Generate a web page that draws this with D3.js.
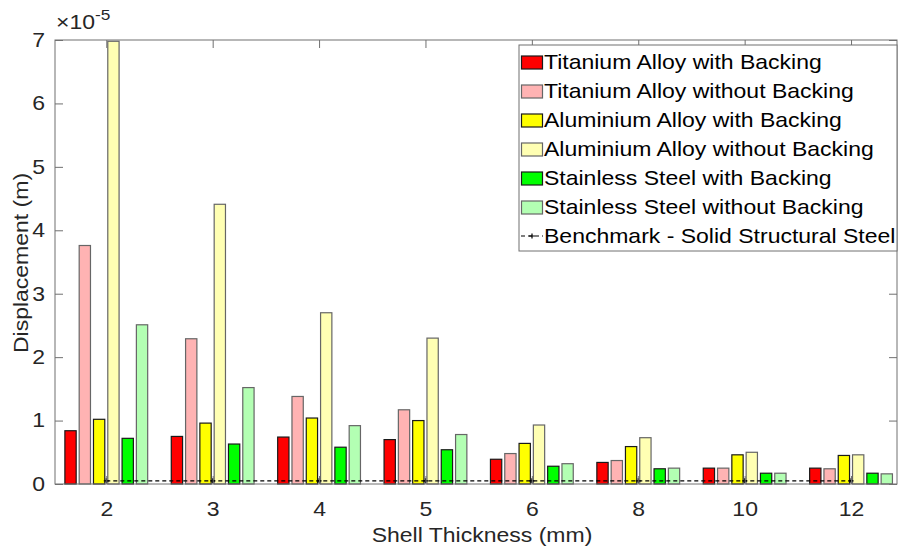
<!DOCTYPE html>
<html>
<head>
<meta charset="utf-8">
<script src="https://cdn.jsdelivr.net/npm/d3@7"></script>
<style>
  html, body { margin: 0; padding: 0; background: #fff; }
  svg { display: block; font-family: "Liberation Sans", Arial, sans-serif; }
</style>
</head>
<body>
<svg id="chart" width="899" height="549"></svg>
<script>
// Shell thickness categories (mm)
const categories = ["2", "3", "4", "5", "6", "8", "10", "12"];

// Displacement values, in units of 1e-5 m
const tiWith       = [0.84, 0.75, 0.74, 0.70, 0.39, 0.34, 0.25, 0.25];
const tiWithout    = [3.76, 2.29, 1.38, 1.17, 0.48, 0.37, 0.25, 0.24];
const alWith       = [1.02, 0.96, 1.04, 1.00, 0.64, 0.59, 0.46, 0.45];
const alWithout    = [6.98, 4.41, 2.70, 2.30, 0.93, 0.73, 0.50, 0.46];
const ssWith       = [0.72, 0.63, 0.58, 0.54, 0.28, 0.24, 0.17, 0.17];
const ssWithout    = [2.51, 1.52, 0.92, 0.78, 0.32, 0.25, 0.17, 0.16];
const benchmark    = [0.05, 0.05, 0.05, 0.05, 0.05, 0.05, 0.05, 0.05];

const seriesNames = [
  "Titanium Alloy with Backing",
  "Titanium Alloy without Backing",
  "Aluminium Alloy with Backing",
  "Aluminium Alloy without Backing",
  "Stainless Steel with Backing",
  "Stainless Steel without Backing"
];
const benchmarkName = "Benchmark - Solid Structural Steel";
const yTicks = [0, 1, 2, 3, 4, 5, 6, 7];

const seriesValues = [tiWith, tiWithout, alWith, alWithout, ssWith, ssWithout];
const fills  = ["#ff0000", "#ffb3b3", "#ffff00", "#ffffb3", "#00ff00", "#b3ffb3"];
const edges  = ["#1a1a1a", "#666666", "#1a1a1a", "#666666", "#1a1a1a", "#666666"];

const svg = d3.select("#chart");
const plotL = 55, plotR = 897, plotT = 40, plotB = 484;
const axisColor = "#707070";
const textColor = "#262626";
const widen = 1.15;

// Text in this figure is set slightly wide; apply a horizontal stretch in place.
function stretch(sel) {
  sel.each(function () {
    const t = d3.select(this);
    const tx = +t.attr("x") || 0, ty = +t.attr("y") || 0;
    const extra = t.attr("data-rot") ? ` rotate(${t.attr("data-rot")})` : "";
    t.attr("x", 0).attr("y", 0)
      .attr("transform", `translate(${tx},${ty})${extra} scale(${widen},1)`);
  });
}

// Category positions (index 1..8), slightly asymmetric limits
const x = d3.scaleLinear().domain([0.518, 8.432]).range([plotL, plotR]);
const y = d3.scaleLinear().domain([0, 7]).range([plotB, plotT]);
// Sub-band for the six bars inside each group (pixel offsets from group centre)
const sub = d3.scaleBand().domain(d3.range(6)).range([-42.9, 42.9])
  .paddingInner(0.21).paddingOuter(0.105);

// Bars
const g = svg.append("g");
seriesValues.forEach((vals, s) => {
  g.selectAll(null).data(vals).enter().append("rect")
    .attr("x", (d, i) => x(i + 1) + sub(s))
    .attr("width", sub.bandwidth())
    .attr("y", d => y(d))
    .attr("height", d => y(0) - y(d))
    .attr("fill", fills[s])
    .attr("stroke", edges[s])
    .attr("stroke-width", 1.2);
});

// Benchmark dashed line with markers
const line = d3.line().x((d, i) => x(i + 1)).y(d => y(d));
svg.append("path").datum(benchmark)
  .attr("d", line).attr("fill", "none")
  .attr("stroke", "#000").attr("stroke-width", 1.2)
  .attr("stroke-dasharray", "4,3");
svg.selectAll(null).data(benchmark).enter().append("path")
  .attr("d", (d, i) => {
    const cx = x(i + 1), cy = y(d);
    return `M${cx - 2.5},${cy}H${cx + 2.5}M${cx},${cy - 2.5}V${cy + 2.5}`;
  })
  .attr("stroke", "#000").attr("stroke-width", 1.2);

// Axis box
svg.append("rect")
  .attr("x", plotL).attr("y", plotT)
  .attr("width", plotR - plotL).attr("height", plotB - plotT)
  .attr("fill", "none").attr("stroke", axisColor).attr("stroke-width", 1);

// Y axis (left ticks inward) + right mirror ticks
const yAxis = d3.axisLeft(y).tickValues(yTicks).tickFormat(d3.format("d"))
  .tickSizeInner(-8).tickSizeOuter(0).tickPadding(10);
const ya = svg.append("g").attr("transform", `translate(${plotL},0)`).call(yAxis);
ya.select(".domain").remove();
ya.selectAll(".tick line").attr("stroke", axisColor);
ya.selectAll(".tick text").attr("fill", textColor).attr("font-size", 20)
  .attr("font-family", "Liberation Sans, Arial, sans-serif").call(stretch);
const yr = svg.append("g").attr("transform", `translate(${plotR},0)`)
  .call(d3.axisRight(y).tickValues(yTicks).tickSizeInner(-8).tickSizeOuter(0).tickFormat(""));
yr.select(".domain").remove();
yr.selectAll(".tick line").attr("stroke", axisColor);

// X axis (bottom ticks inward) + top mirror ticks
const xTickVals = d3.range(1, categories.length + 1);
const xAxis = d3.axisBottom(x).tickValues(xTickVals).tickFormat(i => categories[i - 1])
  .tickSizeInner(-8).tickSizeOuter(0).tickPadding(18);
const xa = svg.append("g").attr("transform", `translate(0,${plotB})`).call(xAxis);
xa.select(".domain").remove();
xa.selectAll(".tick line").attr("stroke", axisColor);
xa.selectAll(".tick text").attr("fill", textColor).attr("font-size", 20)
  .attr("font-family", "Liberation Sans, Arial, sans-serif").call(stretch);
const xt = svg.append("g").attr("transform", `translate(0,${plotT})`)
  .call(d3.axisTop(x).tickValues(xTickVals).tickSizeInner(-8).tickSizeOuter(0).tickFormat(""));
xt.select(".domain").remove();
xt.selectAll(".tick line").attr("stroke", axisColor);

// Exponent label
const ex = svg.append("text").attr("x", 56).attr("y", 29)
  .attr("fill", textColor).attr("font-size", 20);
ex.append("tspan").text("\u00d710");
ex.append("tspan").attr("dy", -9).attr("font-size", 15).text("-5");
ex.call(stretch);

// Axis titles
svg.append("text")
  .attr("x", 21).attr("y", (plotT + plotB) / 2 + 1).attr("data-rot", -90)
  .attr("text-anchor", "middle").attr("dominant-baseline", "central")
  .attr("fill", textColor).attr("font-size", 20)
  .text("Displacement (m)").call(stretch);
svg.append("text")
  .attr("x", (plotL + plotR) / 2 + 6).attr("y", 542)
  .attr("text-anchor", "middle").attr("fill", textColor).attr("font-size", 20)
  .text("Shell Thickness (mm)").call(stretch);

// Legend
const lg = svg.append("g").attr("transform", "translate(519,45)");
lg.append("rect").attr("width", 378).attr("height", 206)
  .attr("fill", "#fff").attr("stroke", axisColor).attr("stroke-width", 1);
const rowH = 29, row0 = 17;
seriesNames.forEach((name, s) => {
  const cy = row0 + s * rowH;
  lg.append("rect").attr("x", 2.5).attr("y", cy - 6).attr("width", 21).attr("height", 13)
    .attr("fill", fills[s]).attr("stroke", edges[s]).attr("stroke-width", 1.2);
  lg.append("text").attr("x", 25).attr("y", cy + 7).attr("font-size", 20)
    .attr("fill", "#000").text(name).call(stretch);
});
{
  const cy = row0 + 6 * rowH;
  lg.append("line").attr("x1", 2).attr("x2", 24).attr("y1", cy).attr("y2", cy)
    .attr("stroke", "#000").attr("stroke-width", 1.2).attr("stroke-dasharray", "4,3");
  lg.append("path").attr("d", `M10,${cy}H16M13,${cy - 2.5}V${cy + 2.5}`)
    .attr("stroke", "#000").attr("stroke-width", 1.2);
  lg.append("text").attr("x", 25).attr("y", cy + 7).attr("font-size", 20)
    .attr("fill", "#000").text(benchmarkName).call(stretch);
}
</script>
</body>
</html>
